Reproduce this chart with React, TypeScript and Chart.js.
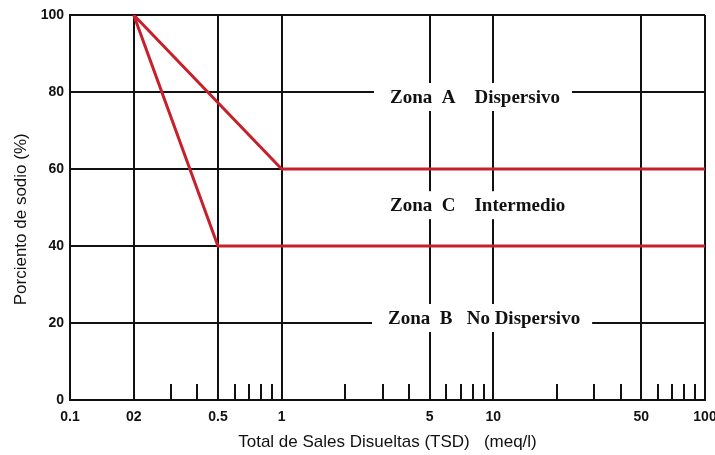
import React, { useEffect, useRef } from 'react';
import { Chart, registerables } from 'chart.js';

Chart.register(...registerables);

// Series data (x = TSD meq/l, y = % sodio)
const upperX = [0.2, 1, 100];
const upperY = [100, 60, 60];
const lowerX = [0.2, 0.5, 100];
const lowerY = [100, 40, 40];

// Axis ticks
const majorXTicks = [0.1, 0.2, 0.5, 1, 5, 10, 50, 100];
const majorXLabels = ['0.1', '02', '0.5', '1', '5', '10', '50', '100'];
const minorXTicks = [0.3, 0.4, 0.6, 0.7, 0.8, 0.9, 2, 3, 4, 6, 7, 8, 9, 20, 30, 40, 60, 70, 80, 90];
const yTicks = [0, 20, 40, 60, 80, 100];

// Zone annotations (text + anchor in data coordinates)
const zoneTexts = ['Zona  A    Dispersivo', 'Zona  C    Intermedio', 'Zona  B   No Dispersivo'];
const zoneX = [3.25, 3.25, 3.18];
const zoneY = [78.7, 50.6, 21.3];

const RED = '#c8202a';
const INK = '#111111';

const overlayPlugin = {
  id: 'zoneOverlay',
  beforeDatasetsDraw(chart: any) {
    const { ctx, chartArea } = chart;
    const x = chart.scales.x;
    const y = chart.scales.y;
    ctx.save();
    // minor tick marks along the bottom
    ctx.strokeStyle = INK;
    ctx.lineWidth = 2;
    minorXTicks.forEach((v) => {
      const px = Math.round(x.getPixelForValue(v));
      ctx.beginPath();
      ctx.moveTo(px, chartArea.bottom);
      ctx.lineTo(px, chartArea.bottom - 16);
      ctx.stroke();
    });
    // zone labels with white knockout
    ctx.font = 'bold 19px "Liberation Serif", "DejaVu Serif", serif';
    ctx.textAlign = 'left';
    ctx.textBaseline = 'middle';
    zoneTexts.forEach((t, i) => {
      const lx = x.getPixelForValue(zoneX[i]);
      const cy = y.getPixelForValue(zoneY[i]);
      const w = ctx.measureText(t).width;
      ctx.fillStyle = '#ffffff';
      ctx.fillRect(lx - 16, cy - 14, w + 28, 28);
      ctx.fillStyle = INK;
      ctx.fillText(t, lx, cy + 1);
    });
    ctx.restore();
  },
};

export default function App() {
  const canvasRef = useRef<HTMLCanvasElement | null>(null);

  useEffect(() => {
    document.body.style.margin = '0';
    const canvas = canvasRef.current;
    if (!canvas) return;
    const chart = new Chart(canvas, {
      type: 'scatter',
      data: {
        datasets: [
          {
            label: 'upper',
            data: upperX.map((v, i) => ({ x: v, y: upperY[i] })),
            showLine: true,
            borderColor: RED,
            borderWidth: 3,
            pointRadius: 0,
            fill: false,
          },
          {
            label: 'lower',
            data: lowerX.map((v, i) => ({ x: v, y: lowerY[i] })),
            showLine: true,
            borderColor: RED,
            borderWidth: 3,
            pointRadius: 0,
            fill: false,
          },
        ],
      },
      options: {
        animation: false,
        responsive: false,
        devicePixelRatio: 1,
        layout: { padding: { left: 0, right: 10, top: 15, bottom: 0 } },
        plugins: {
          legend: { display: false },
          tooltip: { enabled: false },
        },
        scales: {
          x: {
            type: 'logarithmic',
            min: 0.1,
            max: 100,
            afterBuildTicks: (scale: any) => {
              scale.ticks = majorXTicks.map((v) => ({ value: v }));
            },
            afterFit: (scale: any) => {
              scale.height = 55;
              scale.paddingLeft = 0;
              scale.paddingRight = 0;
            },
            ticks: {
              autoSkip: false,
              maxRotation: 0,
              padding: 9,
              color: INK,
              font: { family: '"Liberation Sans", Arial, sans-serif', size: 14, weight: 'bold' },
              callback: (v: any) => {
                const idx = majorXTicks.indexOf(Number(v));
                return idx >= 0 ? majorXLabels[idx] : '';
              },
            },
            grid: { color: INK, lineWidth: 2, drawTicks: false },
            border: { color: INK, width: 2 },
            title: {
              display: true,
              text: 'Total de Sales Disueltas (TSD)   (meq/l)',
              color: INK,
              font: { family: '"Liberation Sans", Arial, sans-serif', size: 17 },
              padding: { top: 0, bottom: 2 },
            },
          },
          y: {
            type: 'linear',
            min: 0,
            max: 100,
            afterBuildTicks: (scale: any) => {
              scale.ticks = yTicks.map((v) => ({ value: v }));
            },
            afterFit: (scale: any) => {
              scale.width = 70;
              scale.paddingTop = 0;
              scale.paddingBottom = 0;
            },
            ticks: {
              padding: 6,
              color: INK,
              font: { family: '"Liberation Sans", Arial, sans-serif', size: 14, weight: 'bold' },
            },
            grid: { color: INK, lineWidth: 2, drawTicks: false },
            border: { color: INK, width: 2 },
            title: {
              display: true,
              text: 'Porciento de sodio (%)     ',
              color: INK,
              font: { family: '"Liberation Sans", Arial, sans-serif', size: 17 },
              padding: { top: 11, bottom: 0 },
            },
          },
        },
      },
      plugins: [overlayPlugin],
    } as any);
    return () => chart.destroy();
  }, []);

  return (
    <div style={{ width: 715, height: 455, background: '#fff' }}>
      <canvas ref={canvasRef} width={715} height={455} style={{ display: 'block' }} />
    </div>
  );
}
